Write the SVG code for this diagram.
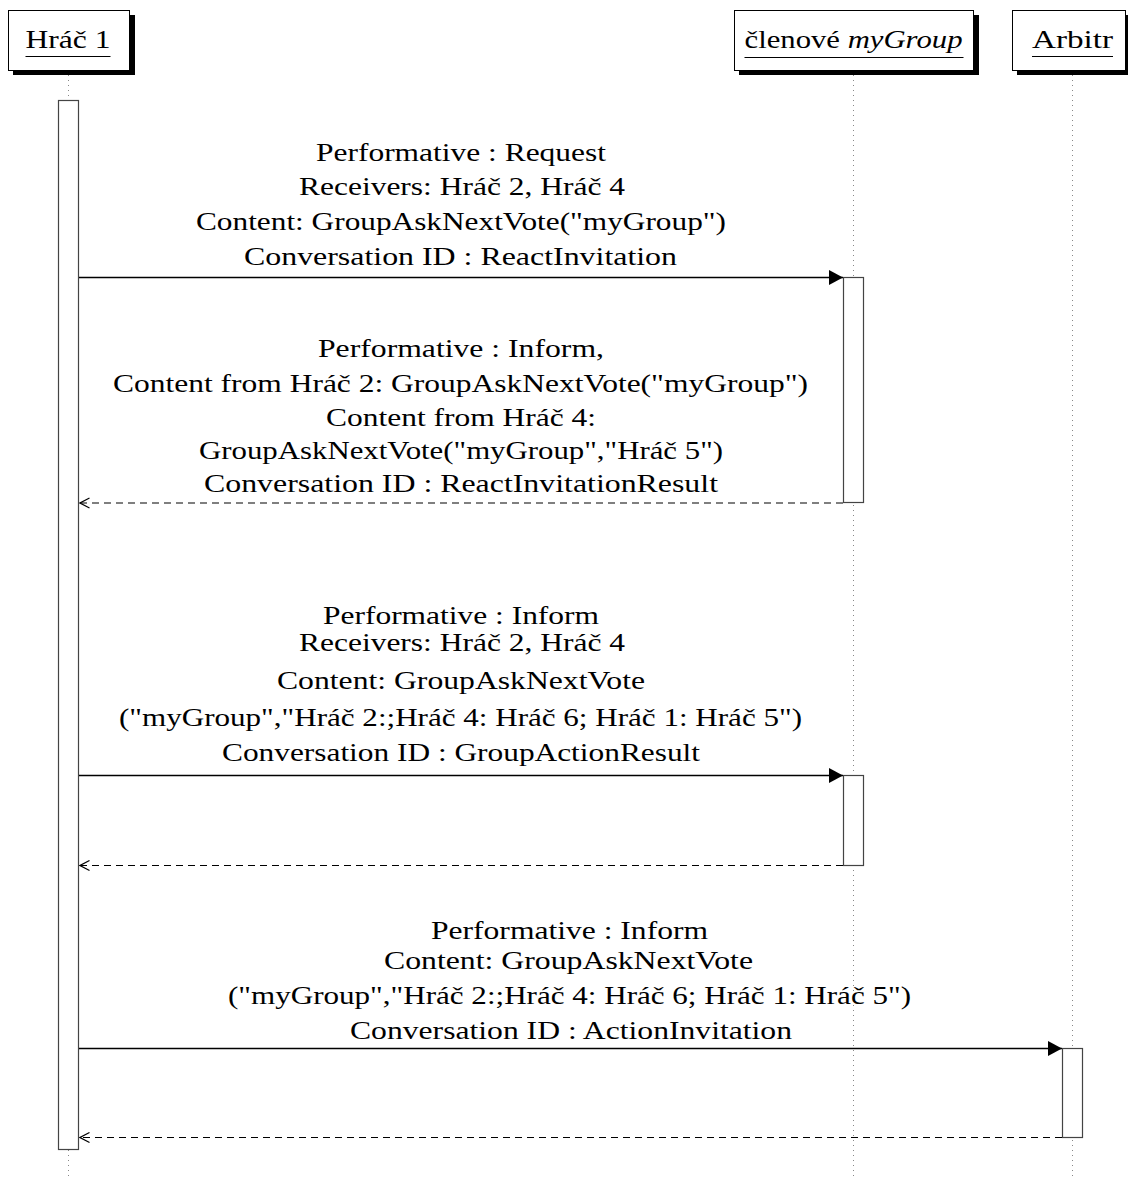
<svg xmlns="http://www.w3.org/2000/svg" width="1128" height="1180" viewBox="0 0 1128 1180">
  <style>
    text { font-family: "Liberation Serif", "Times New Roman", serif; font-size: 26px; fill: #000; }
    .lbl { text-anchor: middle; }
    .head { text-anchor: middle; }
    .uline { stroke: #000; stroke-width: 1; }
    .life { stroke: #888; stroke-width: 1; stroke-dasharray: 1 4; fill: none; }
    .box { fill: #fff; stroke: #000; stroke-width: 1; }
    .shadow { fill: #000; }
    .act { fill: #fff; stroke: #444; stroke-width: 1.2; }
    .msg { stroke: #000; stroke-width: 1.3; fill: none; }
    .ret { stroke: #000; stroke-width: 1.2; fill: none; stroke-dasharray: 7 5; }
  </style>
  <defs>
    <marker id="solidHead" markerWidth="14" markerHeight="16" refX="14" refY="8" orient="auto" markerUnits="userSpaceOnUse">
      <path d="M0,0.5 L14,8 L0,15.5 Z" fill="#000"/>
    </marker>
    <marker id="openHead" markerWidth="12" markerHeight="12" refX="10.5" refY="6" orient="auto" markerUnits="userSpaceOnUse">
      <path d="M1,1 L10.5,6 L1,11" fill="none" stroke="#000" stroke-width="1.2"/>
    </marker>
  </defs>

  <!-- lifelines -->
  <g id="lifelines">
    <line class="life" x1="68.5" y1="75" x2="68.5" y2="1180"/>
    <line class="life" x1="853.5" y1="75" x2="853.5" y2="1180"/>
    <line class="life" x1="1072.5" y1="75" x2="1072.5" y2="1180"/>
  </g>

  <!-- participants -->
  <g id="hrac1">
    <rect class="shadow" x="13" y="15" width="122" height="60"/>
    <rect class="box" x="8.5" y="10.5" width="121" height="60"/>
    <text class="head" x="68" y="48" textLength="85" lengthAdjust="spacingAndGlyphs">Hráč 1</text>
    <line class="uline" x1="25.5" y1="56.5" x2="110.5" y2="56.5"/>
  </g>
  <g id="clenove">
    <rect class="shadow" x="739" y="15" width="240" height="60"/>
    <rect class="box" x="734.5" y="10.5" width="239" height="60"/>
    <text class="head" x="853.5" y="48" textLength="218" lengthAdjust="spacingAndGlyphs">členové <tspan font-style="italic">myGroup</tspan></text>
    <line class="uline" x1="744.5" y1="57.5" x2="963.5" y2="57.5"/>
  </g>
  <g id="arbitr">
    <rect class="shadow" x="1017" y="15" width="120" height="60"/>
    <rect class="box" x="1012.5" y="10.5" width="113" height="60"/>
    <text class="head" x="1072.5" y="48" textLength="81" lengthAdjust="spacingAndGlyphs">Arbitr</text>
    <line class="uline" x1="1032" y1="56.5" x2="1113" y2="56.5"/>
  </g>

  <!-- activation bars -->
  <g id="activations">
    <rect class="act" x="58.5" y="100.5" width="20" height="1049"/>
    <rect class="act" x="843.5" y="277.5" width="20" height="225"/>
    <rect class="act" x="843.5" y="775.5" width="20" height="90"/>
    <rect class="act" x="1062.5" y="1048.5" width="20" height="89"/>
  </g>

  <!-- messages -->
  <g id="connectors">
    <line class="msg" x1="79" y1="277.5" x2="843" y2="277.5" marker-end="url(#solidHead)"/>
    <line class="ret" x1="843" y1="503" x2="80" y2="503" marker-end="url(#openHead)"/>
    <line class="msg" x1="79" y1="775.5" x2="843" y2="775.5" marker-end="url(#solidHead)"/>
    <line class="ret" x1="843" y1="865.5" x2="80" y2="865.5" marker-end="url(#openHead)"/>
    <line class="msg" x1="79" y1="1048.5" x2="1062" y2="1048.5" marker-end="url(#solidHead)"/>
    <line class="ret" x1="1062" y1="1137.5" x2="80" y2="1137.5" marker-end="url(#openHead)"/>
  </g>

  <!-- message labels -->
  <g id="label-request">
    <text class="lbl" x="461" y="161" textLength="290" lengthAdjust="spacingAndGlyphs">Performative : Request</text>
    <text class="lbl" x="462" y="195" textLength="326" lengthAdjust="spacingAndGlyphs">Receivers: Hráč 2, Hráč 4</text>
    <text class="lbl" x="461" y="230" textLength="530" lengthAdjust="spacingAndGlyphs">Content: GroupAskNextVote("myGroup")</text>
    <text class="lbl" x="460.5" y="265" textLength="433" lengthAdjust="spacingAndGlyphs">Conversation ID : ReactInvitation</text>
  </g>
  <g id="label-inform-result">
    <text class="lbl" x="461" y="357" textLength="286" lengthAdjust="spacingAndGlyphs">Performative : Inform,</text>
    <text class="lbl" x="460.5" y="392" textLength="695" lengthAdjust="spacingAndGlyphs">Content from Hráč 2: GroupAskNextVote("myGroup")</text>
    <text class="lbl" x="461" y="426" textLength="270" lengthAdjust="spacingAndGlyphs">Content from Hráč 4:</text>
    <text class="lbl" x="461" y="459" textLength="524" lengthAdjust="spacingAndGlyphs">GroupAskNextVote("myGroup","Hráč 5")</text>
    <text class="lbl" x="461" y="492" textLength="514" lengthAdjust="spacingAndGlyphs">Conversation ID : ReactInvitationResult</text>
  </g>
  <g id="label-group-action">
    <text class="lbl" x="461" y="624" textLength="276" lengthAdjust="spacingAndGlyphs">Performative : Inform</text>
    <text class="lbl" x="462" y="651" textLength="326" lengthAdjust="spacingAndGlyphs">Receivers: Hráč 2, Hráč 4</text>
    <text class="lbl" x="461" y="689" textLength="368" lengthAdjust="spacingAndGlyphs">Content: GroupAskNextVote</text>
    <text class="lbl" x="460.5" y="726" textLength="683" lengthAdjust="spacingAndGlyphs">("myGroup","Hráč 2:;Hráč 4: Hráč 6; Hráč 1: Hráč 5")</text>
    <text class="lbl" x="461" y="761" textLength="478" lengthAdjust="spacingAndGlyphs">Conversation ID : GroupActionResult</text>
  </g>
  <g id="label-action-invitation">
    <text class="lbl" x="569.5" y="939" textLength="277" lengthAdjust="spacingAndGlyphs">Performative : Inform</text>
    <text class="lbl" x="568.5" y="969" textLength="369" lengthAdjust="spacingAndGlyphs">Content: GroupAskNextVote</text>
    <text class="lbl" x="569.5" y="1004" textLength="683" lengthAdjust="spacingAndGlyphs">("myGroup","Hráč 2:;Hráč 4: Hráč 6; Hráč 1: Hráč 5")</text>
    <text class="lbl" x="571" y="1039" textLength="442" lengthAdjust="spacingAndGlyphs">Conversation ID : ActionInvitation</text>
  </g>
</svg>
